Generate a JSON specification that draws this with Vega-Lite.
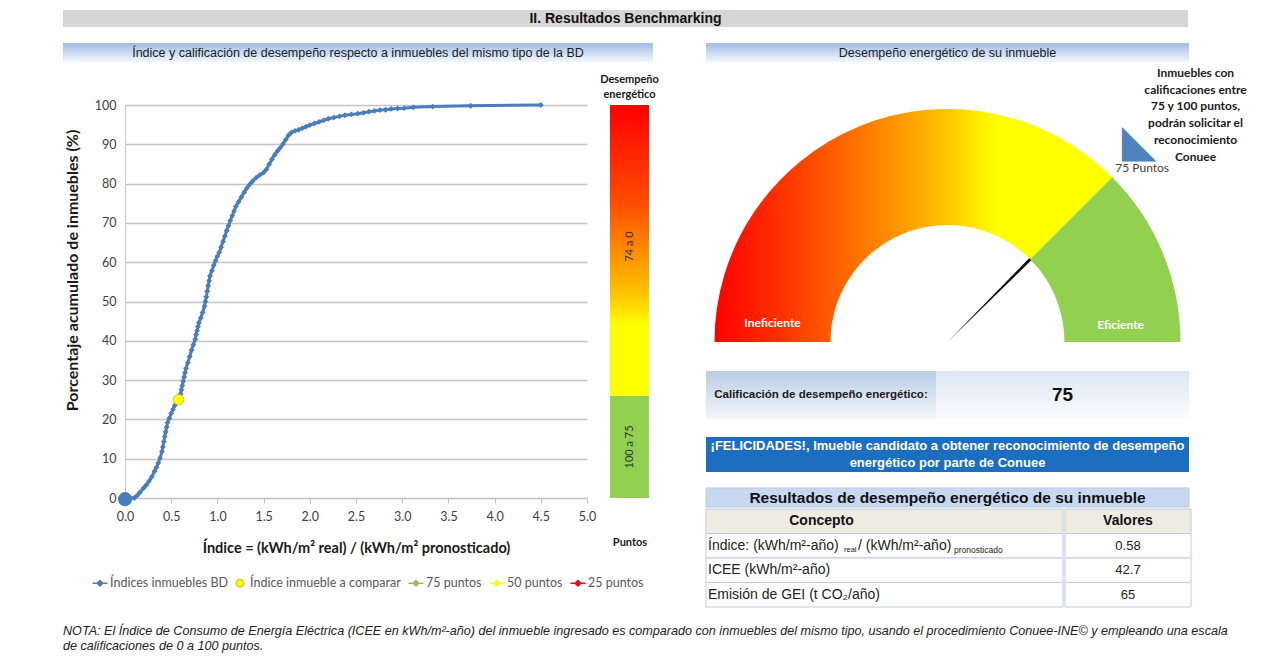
{
  "$schema": "https://vega.github.io/schema/vega-lite/v6.json",
  "background": "white",
  "padding": {"left": 63, "top": 10, "right": 0, "bottom": 0},
  "config": {
    "view": {"stroke": null},
    "font": "Liberation Sans",
    "axis": {"labelFont": "Lato", "titleFont": "Lato"}
  },
  "title": {
    "text": ["NOTA: El Índice de Consumo de Energía Eléctrica (ICEE en kWh/m²-año) del  inmueble ingresado es comparado con inmuebles del mismo tipo, usando el procedimiento Conuee-INE© y empleando una escala", "de calificaciones de 0 a 100 puntos."],
    "orient": "bottom", "anchor": "start", "font": "Liberation Sans", "fontSize": 12.6, "fontStyle": "italic", "fontWeight": "normal", "color": "#222222", "offset": 17, "lineHeight": 15
  },
  "datasets": {
    "curva": [
      {"indice": 0, "porcentaje": 0}, {"indice": 0.03, "porcentaje": 0}, {"indice": 0.06, "porcentaje": 0}, {"indice": 0.1, "porcentaje": 0},
      {"indice": 0.13, "porcentaje": 0.6}, {"indice": 0.16, "porcentaje": 1.4}, {"indice": 0.2, "porcentaje": 2.5}, {"indice": 0.23, "porcentaje": 3.3},
      {"indice": 0.26, "porcentaje": 4.3}, {"indice": 0.29, "porcentaje": 5.4}, {"indice": 0.32, "porcentaje": 6.8}, {"indice": 0.34, "porcentaje": 7.8},
      {"indice": 0.36, "porcentaje": 8.9}, {"indice": 0.38, "porcentaje": 10.2}, {"indice": 0.4, "porcentaje": 11.8}, {"indice": 0.41, "porcentaje": 13},
      {"indice": 0.42, "porcentaje": 14.3}, {"indice": 0.43, "porcentaje": 15.6}, {"indice": 0.44, "porcentaje": 16.8}, {"indice": 0.45, "porcentaje": 18},
      {"indice": 0.46, "porcentaje": 19.2}, {"indice": 0.48, "porcentaje": 20.3}, {"indice": 0.5, "porcentaje": 21.5}, {"indice": 0.52, "porcentaje": 22.6},
      {"indice": 0.54, "porcentaje": 23.6}, {"indice": 0.56, "porcentaje": 24.4}, {"indice": 0.58, "porcentaje": 25.2}, {"indice": 0.6, "porcentaje": 26.4},
      {"indice": 0.61, "porcentaje": 27.5}, {"indice": 0.62, "porcentaje": 28.6}, {"indice": 0.63, "porcentaje": 29.7}, {"indice": 0.64, "porcentaje": 30.8},
      {"indice": 0.65, "porcentaje": 31.9}, {"indice": 0.66, "porcentaje": 33}, {"indice": 0.68, "porcentaje": 34.4}, {"indice": 0.7, "porcentaje": 36},
      {"indice": 0.72, "porcentaje": 37.6}, {"indice": 0.74, "porcentaje": 39}, {"indice": 0.76, "porcentaje": 40.4}, {"indice": 0.77, "porcentaje": 41.6},
      {"indice": 0.78, "porcentaje": 42.6}, {"indice": 0.79, "porcentaje": 43.6}, {"indice": 0.8, "porcentaje": 44.6}, {"indice": 0.82, "porcentaje": 45.8},
      {"indice": 0.84, "porcentaje": 47.2}, {"indice": 0.86, "porcentaje": 48.8}, {"indice": 0.87, "porcentaje": 50}, {"indice": 0.88, "porcentaje": 51.2},
      {"indice": 0.89, "porcentaje": 52.6}, {"indice": 0.9, "porcentaje": 54}, {"indice": 0.91, "porcentaje": 55.3}, {"indice": 0.92, "porcentaje": 56.5},
      {"indice": 0.94, "porcentaje": 57.8}, {"indice": 0.96, "porcentaje": 59.2}, {"indice": 0.98, "porcentaje": 60.4}, {"indice": 1.0, "porcentaje": 61.5},
      {"indice": 1.02, "porcentaje": 62.5}, {"indice": 1.04, "porcentaje": 63.8}, {"indice": 1.06, "porcentaje": 65.2}, {"indice": 1.08, "porcentaje": 66.6},
      {"indice": 1.1, "porcentaje": 68}, {"indice": 1.12, "porcentaje": 69.3}, {"indice": 1.14, "porcentaje": 70.6}, {"indice": 1.16, "porcentaje": 71.8},
      {"indice": 1.18, "porcentaje": 73}, {"indice": 1.2, "porcentaje": 74.2}, {"indice": 1.23, "porcentaje": 75.4}, {"indice": 1.26, "porcentaje": 76.6},
      {"indice": 1.29, "porcentaje": 77.8}, {"indice": 1.32, "porcentaje": 78.9}, {"indice": 1.35, "porcentaje": 79.8}, {"indice": 1.38, "porcentaje": 80.6},
      {"indice": 1.42, "porcentaje": 81.5}, {"indice": 1.46, "porcentaje": 82.2}, {"indice": 1.5, "porcentaje": 82.8}, {"indice": 1.53, "porcentaje": 83.6},
      {"indice": 1.56, "porcentaje": 84.9}, {"indice": 1.59, "porcentaje": 86.2}, {"indice": 1.62, "porcentaje": 87.3}, {"indice": 1.65, "porcentaje": 88.3},
      {"indice": 1.68, "porcentaje": 89.1}, {"indice": 1.71, "porcentaje": 90.1}, {"indice": 1.74, "porcentaje": 91.2}, {"indice": 1.77, "porcentaje": 92.3},
      {"indice": 1.8, "porcentaje": 93}, {"indice": 1.84, "porcentaje": 93.4}, {"indice": 1.88, "porcentaje": 93.7}, {"indice": 1.92, "porcentaje": 94.1},
      {"indice": 1.96, "porcentaje": 94.5}, {"indice": 2.0, "porcentaje": 94.9}, {"indice": 2.05, "porcentaje": 95.3}, {"indice": 2.1, "porcentaje": 95.7},
      {"indice": 2.15, "porcentaje": 96.1}, {"indice": 2.2, "porcentaje": 96.5}, {"indice": 2.26, "porcentaje": 96.8}, {"indice": 2.32, "porcentaje": 97.1},
      {"indice": 2.38, "porcentaje": 97.4}, {"indice": 2.45, "porcentaje": 97.6}, {"indice": 2.52, "porcentaje": 97.8}, {"indice": 2.58, "porcentaje": 98},
      {"indice": 2.64, "porcentaje": 98.3}, {"indice": 2.7, "porcentaje": 98.5}, {"indice": 2.76, "porcentaje": 98.7}, {"indice": 2.82, "porcentaje": 98.8},
      {"indice": 2.88, "porcentaje": 99}, {"indice": 2.95, "porcentaje": 99.1}, {"indice": 3.02, "porcentaje": 99.2}, {"indice": 3.12, "porcentaje": 99.4},
      {"indice": 3.33, "porcentaje": 99.6}, {"indice": 3.74, "porcentaje": 99.8}, {"indice": 4.5, "porcentaje": 100}
    ],
    "umbrales": [
      {"serie": "75 puntos", "calificacion": 75, "porcentaje": 26},
      {"serie": "50 puntos", "calificacion": 50, "porcentaje": 51},
      {"serie": "25 puntos", "calificacion": 25, "porcentaje": 75}
    ],
    "inmueble": [{"serie": "Índice inmueble a comparar", "indice": 0.58, "porcentaje": 25}],
    "tramos": [
      {"eje": "Puntos", "tramo": "100 a 75", "desde": 0, "hasta": 26, "centro": 13},
      {"eje": "Puntos", "tramo": "74 a 0", "desde": 26, "hasta": 100, "centro": 64}
    ],
    "gauge": [
      {"tramo": "Ineficiente", "inicio": 0, "fin": 75},
      {"tramo": "Eficiente", "inicio": 75, "fin": 100}
    ],
    "tabla": [
      {"fila": 1, "tipo": "encabezado", "concepto": "Concepto", "valor": "Valores"},
      {"fila": 2, "tipo": "dato", "concepto": "Índice: (kWh/m²-año)", "valor": "0.58"},
      {"fila": 3, "tipo": "dato", "concepto": "ICEE (kWh/m²-año)", "valor": "42.7"},
      {"fila": 4, "tipo": "dato", "concepto": "Emisión de GEI (t CO₂/año)", "valor": "65"}
    ]
  },
  "spacing": 16,
  "vconcat": [
    {
      "width": 1063, "height": 17,
      "data": {"values": [{"seccion": "II. Resultados Benchmarking"}]},
      "encoding": {"x": {"datum": 0, "type": "quantitative", "scale": {"domain": [0, 1], "range": [-62, 1063]}, "axis": null}},
      "layer": [
        {"mark": {"type": "rect", "color": "#d6d6d6"}, "encoding": {"x": {"datum": 0, "type": "quantitative"}, "x2": {"datum": 1}}},
        {"mark": {"type": "text", "fontWeight": "bold", "fontSize": 14, "color": "#111111"}, "encoding": {"x": {"datum": 0.5, "type": "quantitative"}, "text": {"field": "seccion"}}}
      ]
    },
    {
      "spacing": 46,
      "hconcat": [
        {
          "spacing": 6,
          "vconcat": [
            {
              "width": 528, "height": 19,
              "data": {"values": [{"titulo": "Índice y calificación de desempeño respecto a inmuebles del mismo tipo de la BD"}]},
              "encoding": {"x": {"datum": 0, "type": "quantitative", "scale": {"domain": [0, 1], "range": [-62, 528]}, "axis": null}},
              "layer": [
                {"mark": {"type": "rect", "color": {"gradient": "linear", "x1": 0, "y1": 0, "x2": 0, "y2": 1, "stops": [{"offset": 0, "color": "#9fbde6"}, {"offset": 1, "color": "#f3f7fc"}]}},
                 "encoding": {"x": {"datum": 0, "type": "quantitative"}, "x2": {"datum": 1}}},
                {"mark": {"type": "text", "fontSize": 12.5, "color": "#1a1a1a"}, "encoding": {"x": {"datum": 0.5, "type": "quantitative"}, "text": {"field": "titulo"}}}
              ]
            },
            {
              "spacing": 4,
              "hconcat": [
                {
                  "width": 462, "height": 393,
                  "title": {"text": [" ", " "], "font": "Lato", "fontSize": 11, "fontWeight": "bold", "offset": 5, "lineHeight": 15},
                  "encoding": {
                    "x": {"field": "indice", "type": "quantitative", "scale": {"domain": [0, 5], "nice": false},
                      "axis": {"title": "Índice = (kWh/m² real) / (kWh/m² pronosticado)", "values": [0, 0.5, 1, 1.5, 2, 2.5, 3, 3.5, 4, 4.5, 5], "format": ".1f", "labelExpr": "datum.value == 0 ? '0.0' : datum.label", "labelFlush": false, "grid": false,
                        "domainColor": "#bfbfbf", "tickColor": "#bfbfbf", "tickSize": 5, "labelPadding": 7, "labelFontSize": 12.5, "labelColor": "#404040", "labelOverlap": false,
                        "titleFontSize": 14.5, "titleFontWeight": "bold", "titleColor": "#1a1a1a", "titlePadding": 19}},
                    "y": {"field": "porcentaje", "type": "quantitative", "scale": {"domain": [0, 100], "nice": false},
                      "axis": {"title": "Porcentaje acumulado de inmuebles (%)", "values": [0, 10, 20, 30, 40, 50, 60, 70, 80, 90, 100], "grid": true, "gridColor": "#c4c4c4", "gridWidth": 1.5,
                        "domainColor": "#c8c8c8", "ticks": false, "labelPadding": 9, "labelFontSize": 12.5, "labelColor": "#404040", "labelOverlap": false,
                        "titleFontSize": 16, "titleFontWeight": "bold", "titleColor": "#1a1a1a", "titlePadding": 14, "titleY": 165}}
                  },
                  "layer": [
                    {
                      "data": {"name": "umbrales"},
                      "mark": {"type": "rule", "strokeDash": [2, 2], "color": "#c8c8c8", "strokeWidth": 1.5},
                      "encoding": {"x": {"datum": 0, "type": "quantitative"}, "x2": {"datum": 5}}
                    },
                    {
                      "data": {"name": "curva"},
                      "mark": {"type": "line", "color": "#4a7ebb", "strokeWidth": 3},
                      "encoding": {"order": {"field": "indice", "type": "quantitative"}}
                    },
                    {
                      "data": {"name": "curva"},
                      "mark": {"type": "point", "shape": "diamond", "filled": true, "color": "#4a7ebb", "size": 34, "opacity": 1},
                      "encoding": {}
                    },
                    {
                      "data": {"values": [{"indice": 0, "porcentaje": -0.3}]},
                      "mark": {"type": "circle", "color": "#4a7ebb", "size": 200, "opacity": 1},
                      "encoding": {}
                    },
                    {
                      "data": {"name": "umbrales"},
                      "transform": [{"filter": "datum.serie == '75 puntos'"}],
                      "mark": {"type": "point", "shape": "diamond", "filled": true, "size": 40, "opacity": 1, "color": "#9bbb59"},
                      "encoding": {"x": {"datum": 0, "type": "quantitative"}}
                    },
                    {
                      "data": {"name": "umbrales"},
                      "transform": [{"filter": "datum.serie == '50 puntos'"}],
                      "mark": {"type": "point", "shape": "diamond", "filled": true, "size": 40, "opacity": 1, "color": "#ffff00"},
                      "encoding": {"x": {"datum": 0, "type": "quantitative"}}
                    },
                    {
                      "data": {"name": "umbrales"},
                      "transform": [{"filter": "datum.serie == '25 puntos'"}],
                      "mark": {"type": "point", "shape": "diamond", "filled": true, "size": 40, "opacity": 1, "color": "#ff0000"},
                      "encoding": {"x": {"datum": 0, "type": "quantitative"}}
                    },
                    {
                      "data": {"name": "inmueble"},
                      "mark": {"type": "point", "shape": "circle", "filled": true, "color": "#ffff00", "stroke": "#d9b300", "strokeWidth": 0.8, "size": 110, "opacity": 1},
                      "encoding": {}
                    }
                  ]
                },
                {
                  "width": 39, "height": 393,
                  "title": {"text": ["Desempeño", "energético"], "font": "Lato", "fontSize": 11, "fontWeight": "bold", "color": "#1a1a1a", "offset": 5, "lineHeight": 15},
                  "data": {"name": "tramos"},
                  "encoding": {
                    "x": {"field": "eje", "type": "nominal", "scale": {"paddingInner": 0, "paddingOuter": 0},
                      "axis": {"title": "Puntos", "labels": false, "ticks": false, "domain": false, "titlePadding": 38, "titleFontSize": 11, "titleFontWeight": "bold", "titleColor": "#1a1a1a"}}
                  },
                  "layer": [
                    {
                      "transform": [{"filter": "datum.tramo == '100 a 75'"}],
                      "mark": {"type": "rect", "color": "#92d050"},
                      "encoding": {"y": {"field": "desde", "type": "quantitative", "scale": {"domain": [0, 100], "nice": false}, "axis": null}, "y2": {"field": "hasta"}}
                    },
                    {
                      "transform": [{"filter": "datum.tramo == '74 a 0'"}],
                      "mark": {"type": "rect", "color": {"gradient": "linear", "x1": 0, "y1": 0, "x2": 0, "y2": 1, "stops": [
                        {"offset": 0, "color": "#ff0000"}, {"offset": 0.33, "color": "#ff4a00"}, {"offset": 0.5, "color": "#ff8a00"},
                        {"offset": 0.64, "color": "#ffc000"}, {"offset": 0.76, "color": "#ffff00"}, {"offset": 1, "color": "#ffff00"}]}},
                      "encoding": {"y": {"field": "desde", "type": "quantitative", "scale": {"domain": [0, 100], "nice": false}, "axis": null}, "y2": {"field": "hasta"}}
                    },
                    {
                      "mark": {"type": "text", "angle": 270, "font": "Lato", "fontSize": 11, "color": "#333333"},
                      "encoding": {"y": {"field": "centro", "type": "quantitative"}, "text": {"field": "tramo"}}
                    }
                  ]
                }
              ]
            },
            {
              "width": 1, "height": 1,
              "data": {"values": []},
              "mark": {"type": "point", "filled": true, "opacity": 1},
              "encoding": {
                "fill": {"field": "serie", "type": "nominal",
                  "scale": {"domain": ["Índices inmuebles BD", "Índice inmueble a comparar", "75 puntos", "50 puntos", "25 puntos"], "range": ["#4a7ebb", "#ffff00", "#9bbb59", "#ffff00", "#ff0000"]},
                  "legend": {"orient": "none", "legendX": -32, "legendY": 566, "direction": "horizontal", "title": null, "labelFont": "Lato", "labelFontSize": 12.5, "labelColor": "#595959", "symbolSize": 156, "symbolStrokeWidth": 1.5, "labelOffset": 3, "columnPadding": 4}},
                "stroke": {"field": "serie", "type": "nominal",
                  "scale": {"domain": ["Índices inmuebles BD", "Índice inmueble a comparar", "75 puntos", "50 puntos", "25 puntos"], "range": ["#4a7ebb", "#e6c800", "#9bbb59", "#ffff00", "#ff0000"]},
                  "legend": {"orient": "none", "legendX": -32, "legendY": 566, "direction": "horizontal", "title": null, "labelFont": "Lato", "labelFontSize": 12.5, "labelColor": "#595959", "symbolSize": 156, "symbolStrokeWidth": 1.5, "labelOffset": 3, "columnPadding": 4}},
                "shape": {"field": "serie", "type": "nominal",
                  "scale": {"domain": ["Índices inmuebles BD", "Índice inmueble a comparar", "75 puntos", "50 puntos", "25 puntos"],
                    "range": ["M-1.2,0H1.2M0,-0.45L0.45,0L0,0.45L-0.45,0Z", "M0.6,0A0.6,0.6 0 1,1 -0.6,0A0.6,0.6 0 1,1 0.6,0Z", "M-1.2,0H1.2M0,-0.45L0.45,0L0,0.45L-0.45,0Z", "M-1.2,0H1.2M0,-0.45L0.45,0L0,0.45L-0.45,0Z", "M-1.2,0H1.2M0,-0.45L0.45,0L0,0.45L-0.45,0Z"]},
                  "legend": {"orient": "none", "legendX": -32, "legendY": 566, "direction": "horizontal", "title": null, "labelFont": "Lato", "labelFontSize": 12.5, "labelColor": "#595959", "symbolSize": 156, "symbolStrokeWidth": 1.5, "labelOffset": 3, "columnPadding": 4}}
              }
            }
          ]
        },
        {
          "spacing": 4,
          "vconcat": [
            {
              "width": 483, "height": 19,
              "data": {"values": [{"titulo": "Desempeño energético de su inmueble"}]},
              "layer": [
                {"mark": {"type": "rect", "color": {"gradient": "linear", "x1": 0, "y1": 0, "x2": 0, "y2": 1, "stops": [{"offset": 0, "color": "#9fbde6"}, {"offset": 1, "color": "#f3f7fc"}]}}, "encoding": {}},
                {"mark": {"type": "text", "fontSize": 12.5, "color": "#1a1a1a"}, "encoding": {"text": {"field": "titulo"}}}
              ]
            },
            {
              "spacing": 28,
              "vconcat": [
                {
                  "width": 483, "height": 276,
                  "data": {"name": "gauge"},
                  "layer": [
                    {
                      "transform": [{"filter": "datum.tramo == 'Ineficiente'"}],
                      "mark": {"type": "arc", "radius": 233, "radius2": 117, "y": "height", "color": {"gradient": "linear", "x1": 0, "y1": 0, "x2": 1, "y2": 0, "stops": [
                        {"offset": 0, "color": "#ff0000"}, {"offset": 0.2, "color": "#ff3c00"}, {"offset": 0.4, "color": "#ff8000"},
                        {"offset": 0.55, "color": "#ffb800"}, {"offset": 0.67, "color": "#ffee00"}, {"offset": 0.71, "color": "#ffff00"}, {"offset": 1, "color": "#ffff00"}]}},
                      "encoding": {
                        "theta": {"field": "inicio", "type": "quantitative", "stack": null, "scale": {"domain": [0, 100], "range": [-1.5708, 1.5708]}},
                        "theta2": {"field": "fin"}
                      }
                    },
                    {
                      "transform": [{"filter": "datum.tramo == 'Eficiente'"}],
                      "mark": {"type": "arc", "radius": 233, "radius2": 117, "y": "height", "color": "#92d050"},
                      "encoding": {
                        "theta": {"field": "inicio", "type": "quantitative", "stack": null, "scale": {"domain": [0, 100], "range": [-1.5708, 1.5708]}},
                        "theta2": {"field": "fin"}
                      }
                    },
                    {
                      "transform": [{"filter": "datum.tramo == 'Eficiente'"}],
                      "mark": {"type": "arc", "radius": 117, "radius2": 0, "y": "height", "color": "#000000"},
                      "encoding": {
                        "theta": {"datum": 74.6, "type": "quantitative", "stack": null},
                        "theta2": {"datum": 75.4}
                      }
                    },
                    {
                      "transform": [{"filter": "datum.tramo == 'Ineficiente'"}],
                      "mark": {"type": "text", "radius": 176, "y": "height", "color": "#ffffff", "font": "Lato", "fontWeight": "bold", "fontSize": 12},
                      "encoding": {"theta": {"datum": 3.4, "type": "quantitative"}, "text": {"field": "tramo"}}
                    },
                    {
                      "transform": [{"filter": "datum.tramo == 'Eficiente'"}],
                      "mark": {"type": "text", "radius": 174, "y": "height", "color": "#ffffff", "font": "Lato", "fontWeight": "bold", "fontSize": 12},
                      "encoding": {"theta": {"datum": 96.9, "type": "quantitative"}, "text": {"field": "tramo"}}
                    },
                    {
                      "transform": [{"filter": "datum.tramo == 'Eficiente'"}],
                      "mark": {"type": "text", "radius": 277, "y": "height", "color": "#4f81bd", "font": "DejaVu Sans", "fontSize": 45},
                      "encoding": {"theta": {"datum": 74.3, "type": "quantitative"}, "text": {"value": "◣"}}
                    },
                    {
                      "transform": [{"filter": "datum.tramo == 'Eficiente'"}],
                      "mark": {"type": "text", "radius": 261, "y": "height", "color": "#404040", "font": "Lato", "fontSize": 12},
                      "encoding": {"theta": {"datum": 76.8, "type": "quantitative"}, "text": {"value": "75 Puntos"}}
                    },
                    {
                      "data": {"values": [{"nota": "Inmuebles con\ncalificaciones entre\n75 y 100 puntos,\npodrán solicitar el\nreconocimiento\nConuee"}]},
                      "mark": {"type": "text", "radius": 366, "y": "height", "color": "#1a1a1a", "font": "Lato", "fontWeight": "bold", "fontSize": 12, "lineBreak": "\n", "lineHeight": 16.8},
                      "encoding": {"theta": {"datum": 73.7, "type": "quantitative"}, "text": {"field": "nota"}}
                    }
                  ]
                },
                {
                  "spacing": 18,
                  "vconcat": [
                    {
                      "spacing": 0,
                      "hconcat": [
                        {
                          "width": 230, "height": 48,
                          "data": {"values": [{"concepto": "Calificación de desempeño energético:"}]},
                          "layer": [
                            {"mark": {"type": "rect", "color": {"gradient": "linear", "x1": 0, "y1": 0, "x2": 0, "y2": 1, "stops": [{"offset": 0, "color": "#b8cce4"}, {"offset": 1, "color": "#f4f7fb"}]}}, "encoding": {}},
                            {"mark": {"type": "text", "fontWeight": "bold", "fontSize": 11.5, "color": "#1a1a1a"}, "encoding": {"text": {"field": "concepto"}}}
                          ]
                        },
                        {
                          "width": 253, "height": 48,
                          "data": {"values": [{"calificacion": 75}]},
                          "layer": [
                            {"mark": {"type": "rect", "color": {"gradient": "linear", "x1": 0, "y1": 0, "x2": 0, "y2": 1, "stops": [{"offset": 0, "color": "#dce6f2"}, {"offset": 1, "color": "#fbfcfe"}]}}, "encoding": {}},
                            {"mark": {"type": "text", "fontWeight": "bold", "fontSize": 19, "color": "#111111"}, "encoding": {"text": {"field": "calificacion", "type": "quantitative"}}}
                          ]
                        }
                      ]
                    },
                    {
                      "spacing": 15,
                      "vconcat": [
                        {
                          "width": 483, "height": 35,
                          "data": {"values": [{"mensaje": "¡FELICIDADES!, Imueble candidato a obtener reconocimiento de desempeño\nenergético por parte de Conuee"}]},
                          "layer": [
                            {"mark": {"type": "rect", "color": "#1c6fc0"}, "encoding": {}},
                            {"mark": {"type": "text", "fontWeight": "bold", "fontSize": 13, "color": "#ffffff", "lineBreak": "\n", "lineHeight": 17, "dy": -8.5}, "encoding": {"text": {"field": "mensaje"}}}
                          ]
                        },
                        {
                          "spacing": 0,
                          "vconcat": [
                            {
                              "width": 483, "height": 19,
                              "data": {"values": [{"titulo": "Resultados de desempeño energético de su inmueble"}]},
                              "layer": [
                                {"mark": {"type": "rect", "color": "#c6d9f1", "stroke": "#b9cde5", "strokeWidth": 1}, "encoding": {}},
                                {"mark": {"type": "text", "fontWeight": "bold", "fontSize": 15.5, "color": "#111111"}, "encoding": {"text": {"field": "titulo"}}}
                              ]
                            },
                            {
                              "spacing": 0,
                              "hconcat": [
                                {
                                  "width": 357, "height": 98,
                                  "data": {"name": "tabla"},
                                  "encoding": {
                                    "y": {"field": "fila", "type": "ordinal", "scale": {"paddingInner": 0, "paddingOuter": 0}, "axis": null}
                                  },
                                  "layer": [
                                    {"transform": [{"filter": "datum.tipo == 'encabezado'"}],
                                     "mark": {"type": "rect", "color": "#eeece1", "stroke": "#b9cde5", "strokeWidth": 1}},
                                    {"transform": [{"filter": "datum.tipo == 'dato'"}],
                                     "mark": {"type": "rect", "color": "#ffffff", "stroke": "#b9cde5", "strokeWidth": 1}},
                                    {"transform": [{"filter": "datum.tipo == 'encabezado'"}],
                                     "mark": {"type": "text", "fontWeight": "bold", "fontSize": 14, "color": "#111111", "dx": -63},
                                     "encoding": {"text": {"field": "concepto"}}},
                                    {"transform": [{"filter": "datum.tipo == 'dato'"}],
                                     "mark": {"type": "text", "align": "left", "dx": 2, "fontSize": 14, "color": "#222222"},
                                     "encoding": {"x": {"datum": "Concepto", "type": "nominal", "bandPosition": 0, "scale": {"type": "band", "paddingInner": 0, "paddingOuter": 0}, "axis": null}, "text": {"field": "concepto"}}},
                                    {"data": {"values": [{"fila": 2, "texto": "real"}]},
                                     "mark": {"type": "text", "align": "left", "dx": 138, "dy": 4, "fontSize": 7.5, "color": "#222222"},
                                     "encoding": {"x": {"datum": "Concepto", "type": "nominal", "bandPosition": 0}, "text": {"field": "texto"}}},
                                    {"data": {"values": [{"fila": 2, "texto": "/ (kWh/m²-año)"}]},
                                     "mark": {"type": "text", "align": "left", "dx": 152, "fontSize": 14, "color": "#222222"},
                                     "encoding": {"x": {"datum": "Concepto", "type": "nominal", "bandPosition": 0}, "text": {"field": "texto"}}},
                                    {"data": {"values": [{"fila": 2, "texto": "pronosticado"}]},
                                     "mark": {"type": "text", "align": "left", "dx": 248, "dy": 4, "fontSize": 8.5, "color": "#222222"},
                                     "encoding": {"x": {"datum": "Concepto", "type": "nominal", "bandPosition": 0}, "text": {"field": "texto"}}}
                                  ]
                                },
                                {
                                  "width": 126, "height": 98,
                                  "data": {"name": "tabla"},
                                  "encoding": {
                                    "y": {"field": "fila", "type": "ordinal", "scale": {"paddingInner": 0, "paddingOuter": 0}, "axis": null}
                                  },
                                  "layer": [
                                    {"transform": [{"filter": "datum.tipo == 'encabezado'"}],
                                     "mark": {"type": "rect", "color": "#eeece1", "stroke": "#b9cde5", "strokeWidth": 1}},
                                    {"transform": [{"filter": "datum.tipo == 'dato'"}],
                                     "mark": {"type": "rect", "color": "#ffffff", "stroke": "#b9cde5", "strokeWidth": 1}},
                                    {"transform": [{"filter": "datum.tipo == 'encabezado'"}],
                                     "mark": {"type": "text", "fontWeight": "bold", "fontSize": 14, "color": "#111111"},
                                     "encoding": {"text": {"field": "valor"}}},
                                    {"transform": [{"filter": "datum.tipo == 'dato'"}],
                                     "mark": {"type": "text", "fontSize": 13, "color": "#222222"},
                                     "encoding": {"text": {"field": "valor"}}}
                                  ]
                                }
                              ]
                            }
                          ]
                        }
                      ]
                    }
                  ]
                }
              ]
            }
          ]
        }
      ]
    }
  ]
}
